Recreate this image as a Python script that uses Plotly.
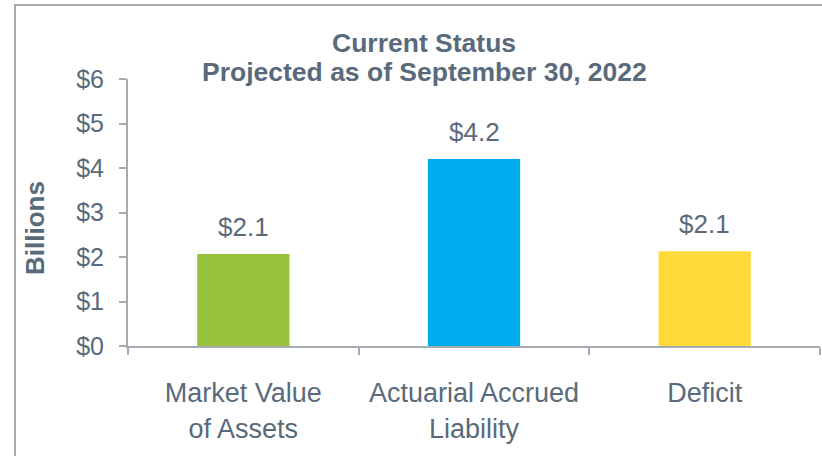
import plotly.graph_objects as go

categories = ["Market Value<br>of Assets", "Actuarial Accrued<br>Liability", "Deficit"]
values = [2.07, 4.2, 2.13]
labels = ["$2.1", "$4.2", "$2.1"]
colors = ["#97C23C", "#00AEEF", "#FFDA3B"]
y_ticks = [0, 1, 2, 3, 4, 5, 6]
y_tick_labels = ["$0", "$1", "$2", "$3", "$4", "$5", "$6"]

TXT = "#596A7B"
AX = "#A5ABB2"
FONT = "Liberation Sans, Arial, sans-serif"

W, H = 822, 456
L, R, T, B = 128, 2, 79, 110
pw, ph = W - L - R, H - T - B

def px_x(px):
    return (px - L) / pw

def px_y(py):
    return (H - B - py) / ph

fig = go.Figure()
fig.add_trace(go.Bar(
    x=categories, y=values, marker=dict(color=colors, line=dict(width=0)),
    width=0.4, hoverinfo="skip",
))

for c, v, t in zip(categories, values, labels):
    fig.add_annotation(x=c, y=v, text=t, showarrow=False, yanchor="bottom",
                       yshift=10, font=dict(size=26, color=TXT, family=FONT))

fig.add_annotation(xref="paper", yref="paper", x=px_x(424), y=px_y(43),
                   text="<b>Current Status</b>", showarrow=False,
                   xanchor="center", yanchor="middle",
                   font=dict(size=26.5, color=TXT, family=FONT))
fig.add_annotation(xref="paper", yref="paper", x=px_x(424), y=px_y(72),
                   text="<b>Projected as of September 30, 2022</b>", showarrow=False,
                   xanchor="center", yanchor="middle",
                   font=dict(size=26.5, color=TXT, family=FONT))
fig.add_annotation(xref="paper", yref="paper", x=px_x(35), y=px_y(228),
                   text="<b>Billions</b>", showarrow=False, textangle=-90,
                   xanchor="center", yanchor="middle",
                   font=dict(size=26, color=TXT, family=FONT))

fig.add_shape(type="rect", xref="paper", yref="paper",
              x0=px_x(15), x1=px_x(900), y0=px_y(600), y1=px_y(5),
              line=dict(color="#A3AAB2", width=2), fillcolor="rgba(0,0,0,0)",
              layer="below")

fig.update_layout(
    width=W, height=H,
    margin=dict(l=L, r=R, t=T, b=B, autoexpand=False),
    paper_bgcolor="white", plot_bgcolor="white",
    showlegend=False,
    font=dict(family=FONT, size=25, color=TXT),
    xaxis=dict(
        showline=True, linecolor=AX, linewidth=2,
        ticks="outside", tickson="boundaries", ticklen=7, tickcolor=AX, tickwidth=2,
        tickfont=dict(size=27, color=TXT, family=FONT),
        ticklabelstandoff=22,
        showgrid=False, zeroline=False, fixedrange=True,
    ),
    yaxis=dict(
        range=[0, 6], tickvals=y_ticks, ticktext=y_tick_labels,
        showline=True, linecolor=AX, linewidth=2,
        ticks="outside", ticklen=7, tickcolor=AX, tickwidth=2,
        tickfont=dict(size=25, color=TXT, family=FONT),
        ticklabelstandoff=10,
        showgrid=False, zeroline=False, fixedrange=True,
    ),
)

fig.write_html("out.html", config={"displayModeBar": False},
               post_script="document.body.style.margin='0';document.body.style.padding='0';")
